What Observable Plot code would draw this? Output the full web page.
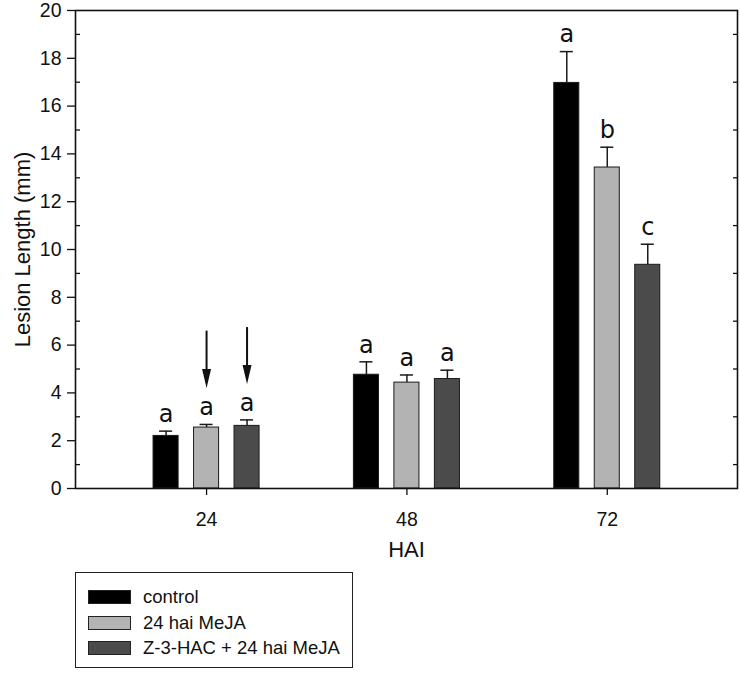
<!DOCTYPE html>
<html>
<head>
<meta charset="utf-8">
<script src="https://cdn.jsdelivr.net/npm/d3@7"></script>
<script src="https://cdn.jsdelivr.net/npm/@observablehq/plot@0.6"></script>
<style>
  html, body { margin: 0; padding: 0; background: #fff; }
  body { font-family: "Liberation Sans", Arial, sans-serif; color: #111; }
  #wrap { position: relative; width: 740px; height: 673px; }
  #legend { position: absolute; left: 75px; top: 572px; width: 276px; height: 94px;
            border: 1.5px solid #222; background: #fff; }
  .row { position: absolute; left: 12px; height: 16px; display: flex; align-items: center; }
  .sw { width: 41px; height: 12px; border: 1px solid #222; margin-right: 12px; }
  .lbl { font-size: 18.5px; line-height: 16px; color: #111; }
</style>
</head>
<body>
<div id="wrap">
  <div id="chart"></div>
  <div id="legend"></div>
</div>
<script>
// ---- data ----
const hai = [24, 48, 72];
const series = ["control", "24 hai MeJA", "Z-3-HAC + 24 hai MeJA"];
const colors = ["#000000", "#b3b3b3", "#4b4b4b"];
const controlMean = [2.2, 4.76, 16.97];
const controlErr = [0.2, 0.54, 1.31];
const mejaMean = [2.55, 4.43, 13.43];
const mejaErr = [0.13, 0.32, 0.85];
const z3Mean = [2.62, 4.58, 9.36];
const z3Err = [0.25, 0.37, 0.86];
const controlLetters = ["a", "a", "a"];
const mejaLetters = ["a", "a", "b"];
const z3Letters = ["a", "a", "c"];
const yTicks = [0, 2, 4, 6, 8, 10, 12, 14, 16, 18, 20];
const yMinorTicks = [1, 3, 5, 7, 9, 11, 13, 15, 17, 19];
// arrows (annotation) at 24 HAI above series 1 and 2
const arrowHai = [24, 24];
const arrowSeries = [1, 2];
const arrowTop = [6.25, 6.4];
const arrowTip = [4.2, 4.375];

// ---- build table ----
const means = [controlMean, mejaMean, z3Mean];
const errs = [controlErr, mejaErr, z3Err];
const letters = [controlLetters, mejaLetters, z3Letters];
const offset = [-4.85, 0, 4.85];
const halfBar = 1.5;
const capHalf = 0.78;
const rows = hai.flatMap((h, i) => series.map((s, j) => ({
  hai: h, series: s, si: j, cx: h + offset[j],
  value: means[j][i], top: means[j][i] + errs[j][i], letter: letters[j][i]
})));
const arrows = arrowHai.map((h, i) => ({x: h + offset[arrowSeries[i]], top: arrowTop[i], tip: arrowTip[i]}));

const arrowHead = {
  draw(ctx) {
    ctx.moveTo(0, 0);
    ctx.lineTo(-4.5, -19);
    ctx.lineTo(4.5, -19);
    ctx.closePath();
  }
};

const chart = Plot.plot({
  width: 740,
  height: 566,
  marginTop: 10,
  marginBottom: 78,
  marginLeft: 75,
  marginRight: 3,
  style: {fontFamily: "'Liberation Sans', Arial, sans-serif", color: "#111", background: "#fff", overflow: "visible"},
  x: {type: "linear", domain: [8.3, 87.6], axis: null},
  y: {domain: [0, 20], axis: null},
  color: {domain: series, range: colors},
  marks: [
    Plot.rectY(rows, {x1: d => d.cx - halfBar, x2: d => d.cx + halfBar, y1: 0, y2: "value",
      fill: "series", stroke: "#1a1a1a", strokeWidth: 1}),
    Plot.ruleX(rows, {x: "cx", y1: "value", y2: "top", stroke: "#1a1a1a", strokeWidth: 1.5}),
    Plot.ruleY(rows, {y: "top", x1: d => d.cx - capHalf, x2: d => d.cx + capHalf, stroke: "#1a1a1a", strokeWidth: 1.5}),
    Plot.text(rows, {x: "cx", y: "top", text: "letter", dy: -17, fontSize: 24,
      fontFamily: "'DejaVu Sans', sans-serif", fill: "#111"}),
    Plot.ruleX(arrows, {x: "x", y1: "top", y2: "tip", stroke: "#111", strokeWidth: 2, dy: -8}),
    Plot.dot(arrows, {x: "x", y: "tip", symbol: arrowHead, fill: "#111", stroke: null, r: 5}),
    Plot.axisY({ticks: yTicks, tickSize: 8, tickPadding: 6, fontSize: 19.5, label: null, strokeWidth: 1.3}),
    Plot.axisY({ticks: yMinorTicks, tickSize: 5, dx: 5, tickFormat: () => "", label: null, strokeWidth: 1.3}),
    Plot.axisY({anchor: "right", ticks: yMinorTicks, tickSize: 5, dx: -5, tickFormat: () => "", label: null, strokeWidth: 1.3}),
    Plot.axisX({ticks: hai, tickSize: 7, tickPadding: 17, fontSize: 19.5, label: null, strokeWidth: 1.3}),
    Plot.frame({stroke: "#111", strokeWidth: 1.6}),
    Plot.text(["Lesion Length (mm)"], {frameAnchor: "left", textAnchor: "middle", dx: -53, rotate: -90, fontSize: 22, fill: "#111"}),
    Plot.text(["HAI"], {frameAnchor: "bottom", dy: 68, fontSize: 22, fill: "#111"})
  ]
});
document.getElementById("chart").append(chart);

// ---- legend ----
const legend = document.getElementById("legend");
const rowTops = [16, 41.5, 67];
series.forEach((s, i) => {
  const r = document.createElement("div");
  r.className = "row";
  r.style.top = rowTops[i] + "px";
  const sw = document.createElement("div");
  sw.className = "sw";
  sw.style.background = colors[i];
  const t = document.createElement("span");
  t.className = "lbl";
  t.textContent = s;
  r.append(sw, t);
  legend.append(r);
});
</script>
</body>
</html>
